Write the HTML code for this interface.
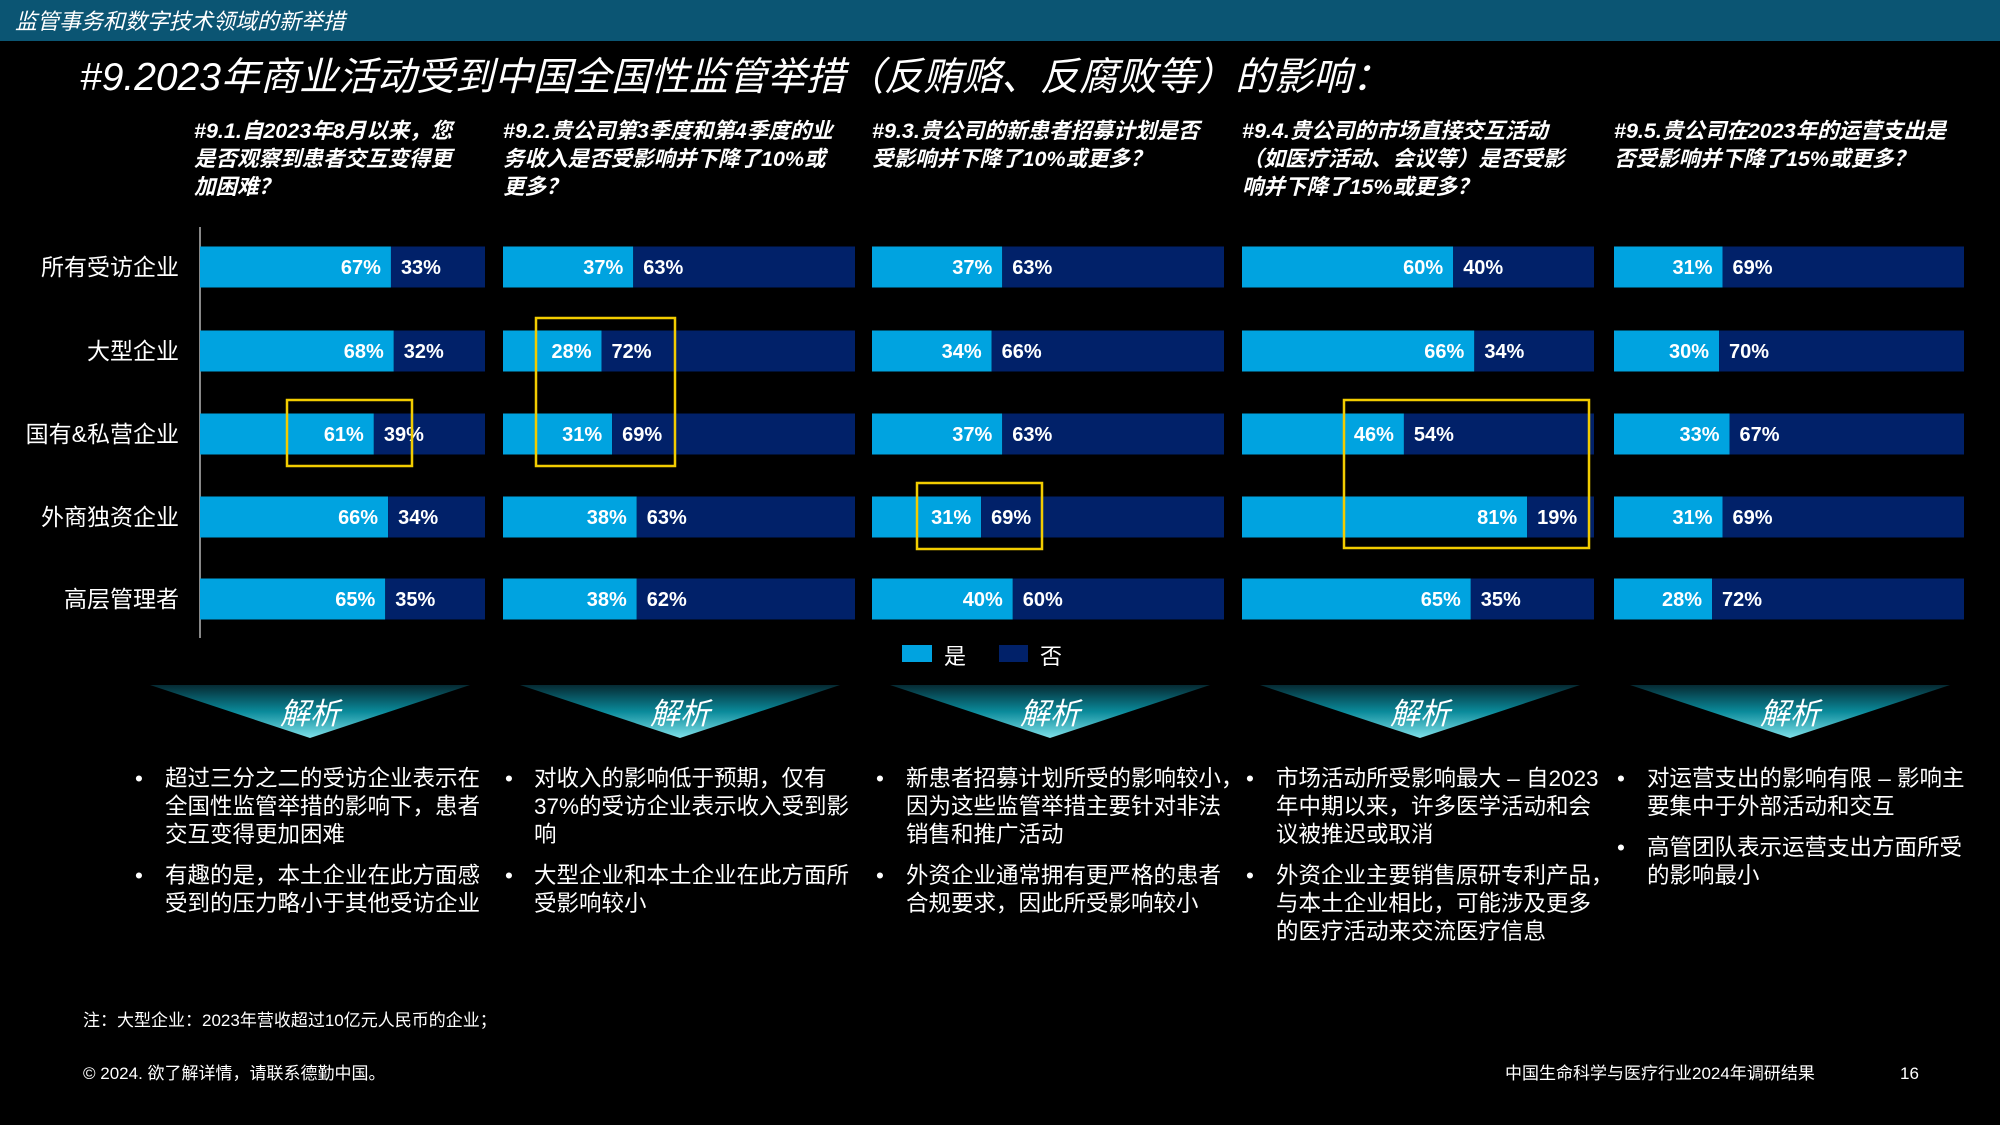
<!DOCTYPE html>
<html><head><meta charset="utf-8"><style>
html,body{margin:0;padding:0;background:#000;}
svg{display:block;font-family:"Liberation Sans","Noto Sans CJK SC",sans-serif;}
</style></head><body>
<svg id="c" width="2000" height="1125" viewBox="0 0 2000 1125" xmlns="http://www.w3.org/2000/svg">
<defs>
<linearGradient id="bg" x1="0" y1="0" x2="0" y2="1">
<stop offset="0" stop-color="#062a33"/><stop offset="0.5" stop-color="#0a8a9a"/><stop offset="1" stop-color="#7fe0e8"/>
</linearGradient>
</defs>
<rect x="0" y="0" width="2000" height="41" fill="#0b5573"/>
<text x="15" y="29" fill="#fff" font-size="22" font-style="italic">监管事务和数字技术领域的新举措</text>
<text x="80" y="90" fill="#fff" font-size="39" font-style="italic">#9.2023年商业活动受到中国全国性监管举措（反贿赂、反腐败等）的影响：</text>
<g id="q" fill="#fff" font-size="21.5" font-style="italic" font-weight="bold"></g>
<line x1="200" y1="227" x2="200" y2="638" stroke="#888" stroke-width="2"/>
<g id="bars"></g>
<g id="labels" fill="#fff" font-size="23" text-anchor="end"></g>
<g id="boxes" fill="none" stroke="#f2cc00" stroke-width="2.5"></g>
<rect x="902" y="645" width="30" height="17" fill="#00a3e0"/>
<text x="944" y="664" fill="#fff" font-size="22">是</text>
<rect x="999" y="645" width="29" height="17" fill="#012169"/>
<text x="1040" y="664" fill="#fff" font-size="22">否</text>
<g id="ban"></g>
<g id="bul" fill="#fff" font-size="22.5"></g>
<text x="83" y="1026" fill="#fff" font-size="17">注：大型企业：2023年营收超过10亿元人民币的企业；</text>
<text x="83" y="1079" fill="#fff" font-size="17">© 2024. 欲了解详情，请联系德勤中国。</text>
<text x="1505" y="1079" fill="#fff" font-size="17">中国生命科学与医疗行业2024年调研结果</text>
<text x="1900" y="1079" fill="#fff" font-size="17">16</text>
</svg>
<script>
const categories=["所有受访企业","大型企业","国有&私营企业","外商独资企业","高层管理者"];
const yes1=[67,68,61,66,65], no1=[33,32,39,34,35];
const yes2=[37,28,31,38,38], no2=[63,72,69,63,62];
const yes3=[37,34,37,31,40], no3=[63,66,63,69,60];
const yes4=[60,66,46,81,65], no4=[40,34,54,19,35];
const yes5=[31,30,33,31,28], no5=[69,70,67,69,72];
const questions=[["#9.1.自2023年8月以来，您","是否观察到患者交互变得更","加困难？"],["#9.2.贵公司第3季度和第4季度的业","务收入是否受影响并下降了10%或","更多？"],["#9.3.贵公司的新患者招募计划是否","受影响并下降了10%或更多？"],["#9.4.贵公司的市场直接交互活动","（如医疗活动、会议等）是否受影","响并下降了15%或更多？"],["#9.5.贵公司在2023年的运营支出是","否受影响并下降了15%或更多？"]];
const bullets=[[["超过三分之二的受访企业表示在","全国性监管举措的影响下，患者","交互变得更加困难"],["有趣的是，本土企业在此方面感","受到的压力略小于其他受访企业"]],[["对收入的影响低于预期，仅有","37%的受访企业表示收入受到影","响"],["大型企业和本土企业在此方面所","受影响较小"]],[["新患者招募计划所受的影响较小，","因为这些监管举措主要针对非法","销售和推广活动"],["外资企业通常拥有更严格的患者","合规要求，因此所受影响较小"]],[["市场活动所受影响最大 – 自2023","年中期以来，许多医学活动和会","议被推迟或取消"],["外资企业主要销售原研专利产品，","与本土企业相比，可能涉及更多","的医疗活动来交流医疗信息"]],[["对运营支出的影响有限 – 影响主","要集中于外部活动和交互"],["高管团队表示运营支出方面所受","的影响最小"]]];
const NS="http://www.w3.org/2000/svg";
const panels=[[200,485],[503,855],[872,1224],[1242,1594],[1614,1964]];
const rowY=[267,351,434,517,599], BH=41;
const yesAll=[yes1,yes2,yes3,yes4,yes5], noAll=[no1,no2,no3,no4,no5];
function mk(tag,attrs,parent,txt){const e=document.createElementNS(NS,tag);for(const k in attrs)e.setAttribute(k,attrs[k]);if(txt!==undefined)e.textContent=txt;parent.appendChild(e);return e;}
const gb=document.getElementById('bars'), gl=document.getElementById('labels'), gq=document.getElementById('q');
function xScale(p,v){const [a,b]=panels[p];return a+(b-a)*v/100;}
categories.forEach((c,i)=>{
  const t=mk('text',{x:179,y:rowY[i]+8},gl,c);
  
  
});
questions.forEach((q,p)=>{
  q.forEach((l,j)=>{
    const t=mk('text',{x:panels[p][0]-(p==0?6:0),y:138+j*28},gq,l);
    
    
  });
});
for(let p=0;p<5;p++){
  for(let i=0;i<5;i++){
    const y=yesAll[p][i], n=noAll[p][i];
    const x0=panels[p][0], xs=xScale(p,y), x1=panels[p][1];
    const r1=mk('rect',{x:x0,y:rowY[i]-BH/2,width:xs-x0,height:BH,fill:'#00a3e0'},gb);
    
    
    const r2=mk('rect',{x:xs,y:rowY[i]-BH/2,width:x1-xs,height:BH,fill:'#012169'},gb);
    
    
    const t1=mk('text',{x:xs-10,y:rowY[i]+7,fill:'#fff','font-size':20,'font-weight':'bold','text-anchor':'end'},gb,y+'%');
    
    
    const t2=mk('text',{x:xs+10,y:rowY[i]+7,fill:'#fff','font-size':20,'font-weight':'bold'},gb,n+'%');
    
    
  }
}
const gx=document.getElementById('boxes');
[[287,400,125,66],[536,318,139,148],[917,483,125,66],[1344,400,245,148]].forEach(b=>{
  const r=mk('rect',{x:b[0],y:b[1],width:b[2],height:b[3]},gx);
  
  
});
const gn=document.getElementById('ban');
[310,680,1050,1420,1790].forEach(cx=>{
  const pg=mk('polygon',{points:`${cx-160},685 ${cx+160},685 ${cx},738`,fill:'url(#bg)'},gn);
  
  
  const t=mk('text',{x:cx,y:724,fill:'#fff','font-size':30,'font-style':'italic','text-anchor':'middle'},gn,'解析');
  
  
});
const gu=document.getElementById('bul');
const bx=[[135,165],[505,534],[876,906],[1246,1276],[1617,1647]];
bullets.forEach((col,p)=>{
  let y=786;
  col.forEach(b=>{
    const d=mk('text',{x:bx[p][0],y:y},gu,'•');
    
    
    b.forEach(l=>{
      const t=mk('text',{x:bx[p][1],y:y},gu,l);
      
      
      y+=28;
    });
    y+=13;
  });
});
</script>
</body></html>
